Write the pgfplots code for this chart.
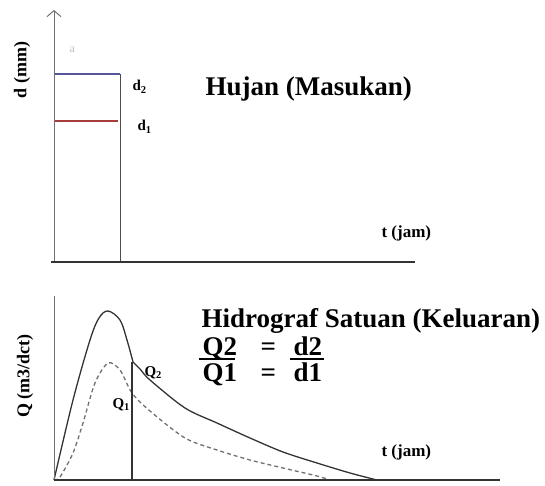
\documentclass[border=0pt]{standalone}
\usepackage{pgfplots}
\pgfplotsset{compat=1.18}
\usetikzlibrary{arrows.meta}
\usepackage{fontspec}
\setmainfont{Liberation Serif}
\definecolor{topblue}{HTML}{55559A}
\definecolor{topred}{HTML}{A83C3C}
\definecolor{curve}{HTML}{333333}
\definecolor{axisgray}{HTML}{707070}

\begin{document}
\begin{tikzpicture}[x=1pt,y=1pt]
\useasboundingbox (0,0) rectangle (545,485);
\pgfplotsset{panel/.style={anchor=origin, scale only axis, x=10pt, y=10pt,
  hide axis, clip=false, xmin=-0.5, ymin=0}}

% rainfall (input)
\begin{axis}[panel, at={(54,223)}, xmax=36.2, ymax=25.4]
  \addplot[topblue, line width=1.2pt] coordinates {(0,18.8) (6.6,18.8)};
  \addplot[topred, line width=1.2pt] coordinates {(0,14.1) (6.4,14.1)};
  \addplot[axisgray!70!black, line width=1pt] coordinates {(6.6,18.8) (6.6,0)};
  \draw[axisgray, line width=1pt, -{Straight Barb[length=6pt,width=14pt]}]
    (axis cs:0,0) -- (axis cs:0,25.2);
  \draw[curve, line width=2pt] (axis cs:-0.3,0) -- (axis cs:36.1,0);
\end{axis}

% unit hydrograph (output)
\begin{axis}[panel, at={(54,5)}, xmax=44.8, ymax=18.6]
  \addplot[curve, line width=1.3pt, smooth, tension=0.55] coordinates {
    (0,0) (1.9,8.0) (3.6,14.0) (4.5,16.2) (5.4,16.9) (6.6,16.0) (7.3,14.0) (7.9,11.8)};
  \addplot[curve, line width=1.3pt, smooth, tension=0.5] coordinates {
    (7.9,11.8) (8.6,11.1) (9.6,10.0) (13.1,7.2) (16.3,5.7) (19.6,4.2)
    (22.9,2.8) (26.3,1.7) (29.6,0.7) (32.3,0)};
  \addplot[axisgray, line width=1.3pt, dashed, dash pattern=on 4pt off 3pt,
    smooth, tension=0.5] coordinates {
    (0,0) (0.6,0.3) (1.9,2.7) (2.9,5.7) (4.1,9.7) (5.4,11.7) (6.6,11.0)
    (7.8,8.7) (9.6,6.9) (13.1,4.2) (16.3,3.0) (19.6,2.0) (22.9,1.2)
    (26.3,0.4) (27.6,0)};
  \addplot[curve, line width=1.1pt] coordinates {(7.8,0) (7.8,11.8)};
  \draw[axisgray, line width=1pt] (axis cs:0,0) -- (axis cs:0,18.4);
  \draw[curve, line width=2pt] (axis cs:0,0) -- (axis cs:44.6,0);
\end{axis}

% texts
\node[anchor=base west, font=\fontsize{27}{30}\selectfont\bfseries] at (202,389) {Hujan (Masukan)};
\node[anchor=base west, font=\fontsize{27}{30}\selectfont\bfseries] at (198,158) {Hidrograf Satuan (Keluaran)};
\node[anchor=base west, font=\fontsize{27}{30}\selectfont\bfseries] at (199,130) {Q2};
\node[anchor=base west, font=\fontsize{27}{30}\selectfont\bfseries] at (257,130) {=};
\node[anchor=base west, font=\fontsize{27}{30}\selectfont\bfseries] at (290,130) {d2};
\draw[black, line width=2.2pt] (199,126) -- (235,126);
\draw[black, line width=2.2pt] (290,126) -- (324,126);
\node[anchor=base west, font=\fontsize{27}{30}\selectfont\bfseries] at (199,104) {Q1};
\node[anchor=base west, font=\fontsize{27}{30}\selectfont\bfseries] at (257,104) {=};
\node[anchor=base west, font=\fontsize{27}{30}\selectfont\bfseries] at (290,104) {d1};

\node[anchor=base west, font=\fontsize{17}{20}\selectfont\bfseries] at (378,248) {t (jam)};
\node[anchor=base west, font=\fontsize{17}{20}\selectfont\bfseries] at (378,29) {t (jam)};
\node[rotate=90, font=\fontsize{18}{20}\selectfont\bfseries] at (22,415) {d (mm)};
\node[rotate=90, font=\fontsize{18}{20}\selectfont\bfseries] at (25,109) {Q (m3/dct)};

\node[anchor=base west, font=\fontsize{15}{17}\selectfont\bfseries] at (129,394) {d\textsubscript{2}};
\node[anchor=base west, font=\fontsize{15}{17}\selectfont\bfseries] at (134,354) {d\textsubscript{1}};
\node[anchor=base west, font=\fontsize{15}{17}\selectfont\bfseries] at (141,109) {Q\textsubscript{2}};
\node[anchor=base west, font=\fontsize{15}{17}\selectfont\bfseries] at (109,77) {Q\textsubscript{1}};
\node[anchor=base west, font=\fontsize{12}{14}\selectfont, black!25] at (66,432) {a};
\end{tikzpicture}
\end{document}
